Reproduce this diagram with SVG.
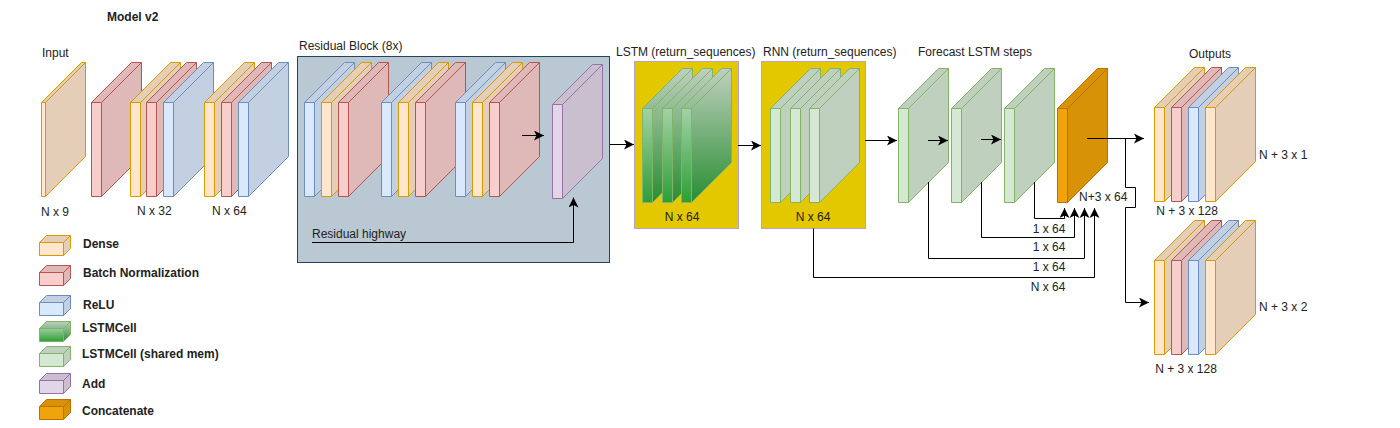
<svg xmlns="http://www.w3.org/2000/svg" xmlns:xlink="http://www.w3.org/1999/xlink" width="1400" height="428" viewBox="0 0 1400 428">
<style>
text{font-family:"Liberation Sans",Arial,sans-serif;font-size:12px;fill:#222}
.b{font-weight:bold}
.m{text-anchor:middle}
.f{stroke:none}
.dk{fill:#000;fill-opacity:.1;stroke:none}
.ln{fill:none}
.dense{fill:#ffe6cc;stroke:#d79b00}
.bn{fill:#f8cecc;stroke:#b85450}
.relu{fill:#dae8fc;stroke:#6c8ebf}
.lstm{fill:url(#gLstm);stroke:#82b366}
.shared{fill:#d5e8d4;stroke:#82b366}
.add{fill:#e1d5e7;stroke:#9673a6}
.cat{fill:#f0a30a;stroke:#bd7000}
.con{fill:none;stroke:#000;stroke-width:1}
.arr{marker-end:url(#ah)}
</style>
<defs>
<linearGradient id="gLstm" x1="0" y1="0" x2="0" y2="1">
<stop offset="0" stop-color="#d5e8d4"/>
<stop offset="1" stop-color="#2d9e37"/>
</linearGradient>
<marker id="ah" markerUnits="userSpaceOnUse" markerWidth="10" markerHeight="10" refX="8" refY="4" orient="auto" viewBox="0 0 8 8">
<path d="M0,0 L8,4 L0,8 L2,4 Z" fill="#000"/>
</marker>
<g id="slab">
<path class="f" d="M0,0 L40,-40 L50,-40 L50,54 L10,94 L0,94 Z"/>
<path class="dk" d="M0,0 L40,-40 L50,-40 L50,54 L10,94 L10,0 Z"/>
<path class="ln" d="M0,0 L40,-40 L50,-40 L50,54 L10,94 L0,94 Z M0,0 H10 V94 M10,0 L50,-40"/>
</g>
<g id="thin">
<path class="f" d="M0,0 L40,-40 L44,-40 L44,54 L4,94 L0,94 Z"/>
<path class="dk" d="M0,0 L40,-40 L44,-40 L44,54 L4,94 L4,0 Z"/>
<path class="ln" d="M0,0 L40,-40 L44,-40 L44,54 L4,94 L0,94 Z M0,0 H4 V94 M4,0 L44,-40"/>
</g>
<g id="cube">
<path class="f" d="M0,0 L7,-7 L31,-7 L31,6 L24,13 L0,13 Z"/>
<path class="dk" d="M0,0 L7,-7 L31,-7 L31,6 L24,13 L24,0 Z"/>
<path class="ln" d="M0,0 L7,-7 L31,-7 L31,6 L24,13 L0,13 Z M0,0 H24 V13 M24,0 L31,-7"/>
</g>
</defs>
<rect width="1400" height="428" fill="#fff"/>
<text class="b" x="107" y="21">Model v2</text>

<g id="input">
<text x="42" y="57">Input</text>
<use href="#thin" x="41.5" y="102.5" class="dense"/>
<text x="41" y="216">N x 9</text>
</g>
<g id="bn0">
<use href="#slab" x="91.5" y="102.5" class="bn"/>
</g>
<g id="block32">
<use href="#slab" x="130.5" y="102.5" class="dense"/>
<use href="#slab" x="146.5" y="102.5" class="bn"/>
<use href="#slab" x="163.5" y="102.5" class="relu"/>
<text x="137" y="215">N x 32</text>
</g>
<g id="block64">
<use href="#slab" x="204.5" y="102.5" class="dense"/>
<use href="#slab" x="221.5" y="102.5" class="bn"/>
<use href="#slab" x="238.5" y="102.5" class="relu"/>
<text x="212" y="215">N x 64</text>
</g>

<g id="residual">
<text x="299" y="50">Residual Block (8x)</text>
<rect x="297.5" y="56.5" width="312" height="206" fill="#bac8d3" stroke="#23445d"/>
<use href="#slab" x="304.5" y="102.5" class="relu"/>
<use href="#slab" x="321.5" y="102.5" class="dense"/>
<use href="#slab" x="338.5" y="102.5" class="bn"/>
<use href="#slab" x="381.5" y="102.5" class="relu"/>
<use href="#slab" x="398.5" y="102.5" class="dense"/>
<use href="#slab" x="415.5" y="102.5" class="bn"/>
<use href="#slab" x="455.5" y="102.5" class="relu"/>
<use href="#slab" x="472.5" y="102.5" class="dense"/>
<use href="#slab" x="489.5" y="102.5" class="bn"/>
<text x="312" y="238">Residual highway</text>
</g>
<g id="add">
<use href="#slab" x="552.5" y="104.5" class="add"/>
</g>

<g id="lstm">
<text x="616" y="56">LSTM (return_sequences)</text>
<rect x="634.5" y="61.5" width="104" height="167" fill="#e3c800" stroke="#b9a3c4"/>
<use href="#slab" x="642.5" y="108.5" class="lstm"/>
<use href="#slab" x="662.5" y="108.5" class="lstm"/>
<use href="#slab" x="681.5" y="108.5" class="lstm"/>
<text class="m" x="682" y="221">N x 64</text>
</g>
<g id="rnn">
<text x="763" y="56">RNN (return_sequences)</text>
<rect x="761.5" y="61.5" width="104" height="167" fill="#e3c800" stroke="#b9a3c4"/>
<use href="#slab" x="770.5" y="108.5" class="shared"/>
<use href="#slab" x="790.5" y="108.5" class="shared"/>
<use href="#slab" x="809.5" y="108.5" class="shared"/>
<text class="m" x="813" y="221">N x 64</text>
</g>

<g id="forecast">
<text x="918" y="56">Forecast LSTM steps</text>
<use href="#slab" x="898.5" y="108.5" class="shared"/>
<use href="#slab" x="951.5" y="108.5" class="shared"/>
<use href="#slab" x="1004.5" y="108.5" class="shared"/>
</g>
<g id="concat">
<use href="#slab" x="1057.5" y="108.5" class="cat"/>
</g>

<g id="connectors">
<path class="con arr" d="M610,144.5 H634"/>
<path class="con arr" d="M522,135.5 H544"/>
<path class="con arr" d="M312,242.5 H573.5 V197.5"/>
<path class="con arr" d="M738,145.5 H761"/>
<path class="con arr" d="M865,140.5 H897"/>
<path class="con arr" d="M928,140.5 H948"/>
<path class="con arr" d="M981,139.5 H1001"/>
<path class="con arr" d="M1087,138.5 H1144"/>
<path class="con arr" d="M1125.5,138.5 V187.5 H1135.5 V207.5 H1125.5 V302.5 H1149"/>
<path class="con arr" d="M1034.5,182 V218.5 H1064.5 V208"/>
<path class="con arr" d="M981.5,182 V237.5 H1074.5 V208"/>
<path class="con arr" d="M928.5,182 V258.5 H1084.5 V208"/>
<path class="con arr" d="M813.5,228.5 V277.5 H1094.5 V208"/>
<text x="1079" y="201">N+3 x 64</text>
<text class="m" x="1049" y="233">1 x 64</text>
<text class="m" x="1049" y="251">1 x 64</text>
<text class="m" x="1049" y="271">1 x 64</text>
<text class="m" x="1048" y="291">N x 64</text>
</g>

<g id="output1">
<text class="m" x="1210" y="58">Outputs</text>
<use href="#slab" x="1154.5" y="107.5" class="dense"/>
<use href="#slab" x="1171.5" y="107.5" class="bn"/>
<use href="#slab" x="1188.5" y="107.5" class="relu"/>
<use href="#slab" x="1205.5" y="107.5" class="dense"/>
<text x="1259" y="159">N + 3 x 1</text>
<text class="m" x="1187" y="215">N + 3 x 128</text>
</g>
<g id="output2">
<use href="#slab" x="1154.5" y="260.5" class="dense"/>
<use href="#slab" x="1171.5" y="260.5" class="bn"/>
<use href="#slab" x="1188.5" y="260.5" class="relu"/>
<use href="#slab" x="1205.5" y="260.5" class="dense"/>
<text x="1259" y="311">N + 3 x 2</text>
<text class="m" x="1186" y="373">N + 3 x 128</text>
</g>

<g id="legend">
<use href="#cube" x="39.5" y="242.5" class="dense"/>
<text class="b" x="83" y="248">Dense</text>
<use href="#cube" x="39.5" y="272.5" class="bn"/>
<text class="b" x="83" y="277">Batch Normalization</text>
<use href="#cube" x="39.5" y="302.5" class="relu"/>
<text class="b" x="83" y="309">ReLU</text>
<use href="#cube" x="39.5" y="328.5" class="lstm"/>
<text class="b" x="82" y="332">LSTMCell</text>
<use href="#cube" x="39.5" y="353.5" class="shared"/>
<text class="b" x="82" y="358">LSTMCell (shared mem)</text>
<use href="#cube" x="39.5" y="380.5" class="add"/>
<text class="b" x="82" y="388">Add</text>
<use href="#cube" x="39.5" y="406.5" class="cat"/>
<text class="b" x="82" y="415">Concatenate</text>
</g>
</svg>
